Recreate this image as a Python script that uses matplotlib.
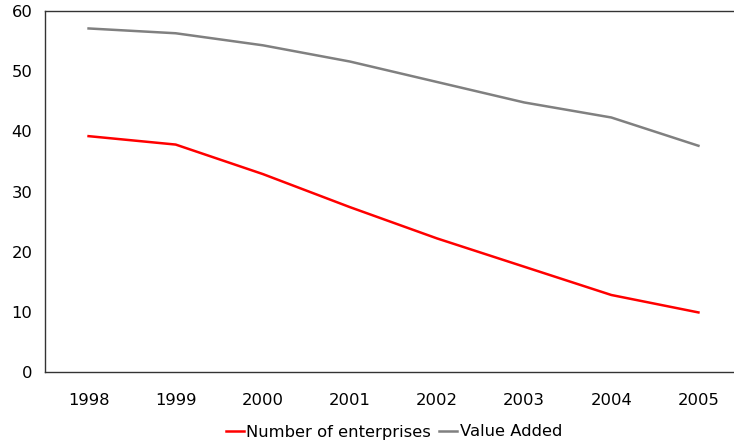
import matplotlib.pyplot as plt
import numpy as np

years = ['1998', '1999', '2000', '2001', '2002', '2003', '2004', '2005']
enterprises = [39.2, 37.8, 32.9, 27.4, 22.2, 17.5, 12.8, 9.9]
value_added = [57.1, 56.3, 54.3, 51.6, 48.2, 44.8, 42.3, 37.6]

plt.rcParams['font.family'] = ['DejaVu Sans']

fig = plt.figure(figsize=(7.34, 4.41), dpi=100)
ax = fig.add_axes([45 / 734, 1 - 372 / 441, 697 / 734, 361 / 441])

x = np.arange(len(years))
ax.plot(x, enterprises, color='#ff0000', lw=1.8, label='Number of enterprises')
ax.plot(x, value_added, color='#808080', lw=1.8, label='Value Added')

ax.set_xlim(-0.5, len(years) - 0.5)
ax.set_ylim(0, 60)
ax.set_yticks(range(0, 61, 10))
ax.set_xticks(x)
ax.set_xticklabels(years)
ax.tick_params(length=0, labelsize=11.8, colors='#000000')
ax.tick_params(axis='x', pad=15)
ax.tick_params(axis='y', pad=9)
ax.spines['right'].set_visible(False)
for side in ['left', 'top', 'bottom']:
    ax.spines[side].set_color('#333333')
    ax.spines[side].set_linewidth(1.0)

leg = fig.legend(loc='center', bbox_to_anchor=(394 / 734, 1 - 432 / 441), ncol=2,
                 frameon=False, fontsize=11.8, handlelength=1.1,
                 handletextpad=0.15, columnspacing=0.5)

fig.savefig('out.png', dpi=100)
